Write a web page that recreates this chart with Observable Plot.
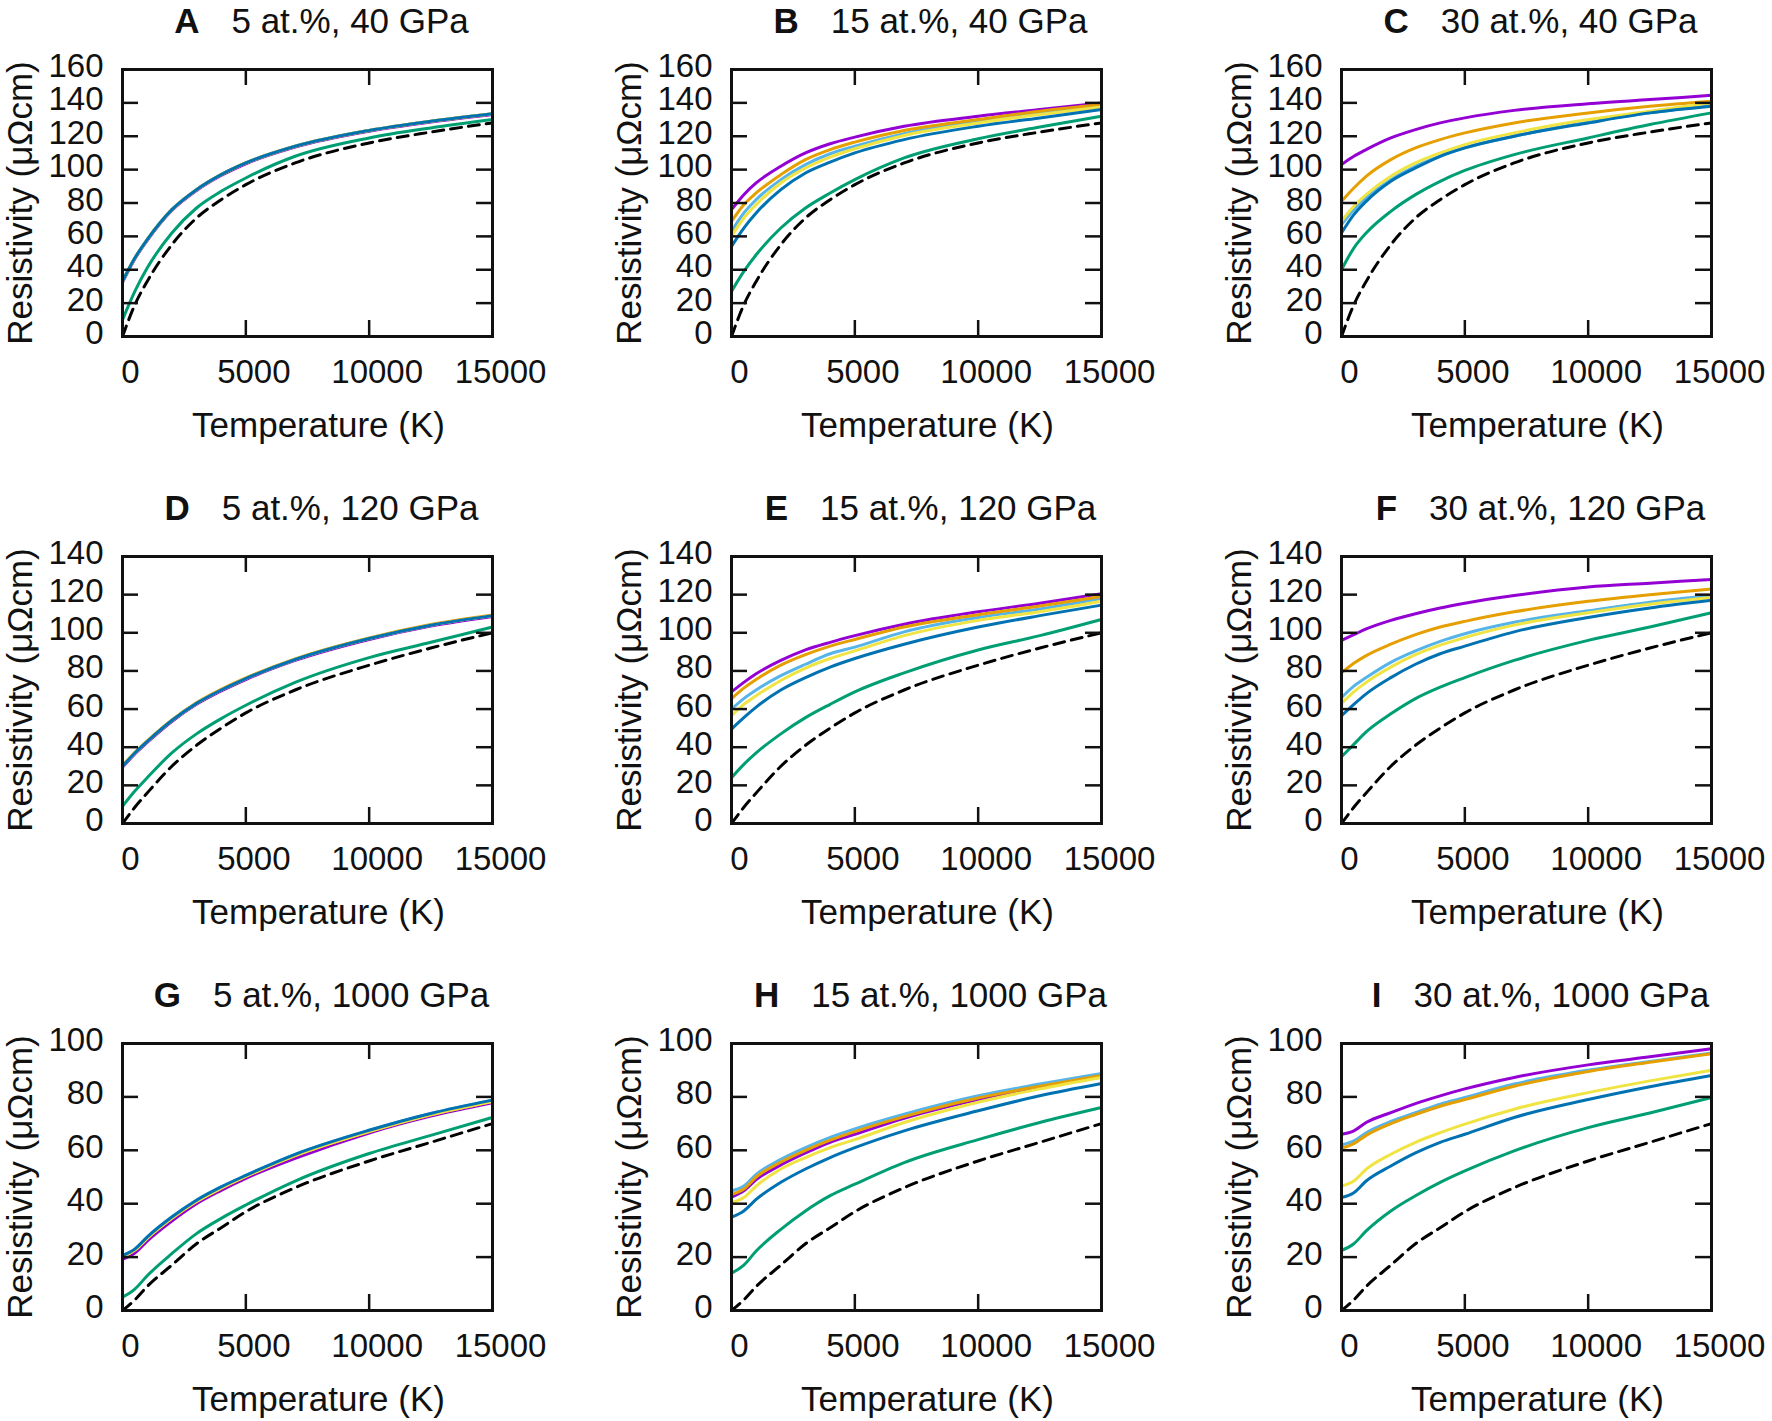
<!DOCTYPE html>
<html>
<head>
<meta charset="utf-8">
<script src="https://cdn.jsdelivr.net/npm/d3@7"></script>
<script src="https://cdn.jsdelivr.net/npm/@observablehq/plot@0.6"></script>
<style>
  html, body { margin: 0; padding: 0; background: #fff; overflow: hidden; }
  #fig { position: relative; width: 1772px; height: 1421px; overflow: hidden; }
  #fig svg { position: absolute; overflow: visible; }
</style>
</head>
<body>
<div id="fig"></div>
<script>
// temperatures (K) at which every curve is read
const temps = [0, 500, 1000, 2000, 3000, 4000, 5000, 7000, 10000, 12500, 15000];
const xTicks = [0, 5000, 10000, 15000];
const yTicks160 = [0, 20, 40, 60, 80, 100, 120, 140, 160];
const yTicks140 = [0, 20, 40, 60, 80, 100, 120, 140];
const yTicks100 = [0, 20, 40, 60, 80, 100];

// line colours, in drawing order: purple, green, sky blue, orange, yellow, blue
const colors = ["#9400D3", "#009E73", "#56B4E9", "#E69F00", "#F0E442", "#0072B2"];

// dashed reference curve, one per pressure (row)
const pure40 = [0, 19, 33, 55, 71, 82, 91, 104, 116, 122.5, 128];
const pure120 = [0, 8.5, 16, 30, 41, 50, 58, 70, 83, 92, 100];
const pure1000 = [0, 4, 9, 17, 25, 31, 37, 46, 56, 63, 70];

// resistivity (µΩcm), series order = colors
const panelA = [
  [32.5, 46.5, 57.5, 75.5, 87.5, 96.5, 103.5, 113.5, 123, 128.5, 133],
  [10, 27, 41, 62, 77, 87, 95, 108, 119, 125, 130],
  [33, 47, 58, 76, 88, 97, 104, 114, 123.5, 129, 133.5],
  [33, 47, 58, 76, 88, 97, 104, 114, 123.5, 129, 133.5],
  [33, 47, 58, 76, 88, 97, 104, 114, 123.5, 129, 133.5],
  [33, 47, 58, 76, 88, 97, 104, 114, 123.5, 129, 133.5]
];
const panelB = [
  [76, 85, 92, 102, 110, 115.5, 119.5, 126, 132, 136, 140],
  [27, 39, 49, 65, 77, 86, 94, 107, 118.5, 125.5, 132],
  [63, 74, 82, 94, 103, 109.5, 114, 121.5, 129, 134, 138],
  [69, 79, 86, 97, 106, 112, 116.5, 123.5, 130, 135, 139],
  [60, 71, 79, 92, 101, 107.5, 112.5, 120.5, 128, 133, 137.5],
  [54, 65, 74, 88, 98, 104.5, 110, 118, 126, 131, 136]
];
const panelC = [
  [103, 108, 112, 119, 124, 128, 131, 135.5, 139.5, 142, 144.5],
  [40, 53, 62, 75, 85, 93, 99.5, 109, 119, 127, 134],
  [67, 76, 83, 94, 102, 108, 113, 120, 128.5, 134, 138.5],
  [81, 89, 96, 106, 113, 118, 122, 128, 134, 138, 141],
  [69, 78, 85, 96, 104, 110, 115, 122, 130, 135, 140],
  [62, 73, 81, 93, 101, 108, 113, 120, 128, 134, 138]
];
const panelD = [
  [29.5, 36.5, 42.5, 53.5, 62.5, 69.5, 75.5, 85.5, 96.5, 103.5, 108.5],
  [9, 17, 24, 37, 47, 55, 62, 74, 87, 95, 103],
  [30, 37, 43, 54, 63, 70, 76, 86, 97, 104, 109],
  [30.3, 37.3, 43.3, 54.3, 63.3, 70.3, 76.3, 86.3, 97.3, 104.3, 109.3],
  [30, 37, 43, 54, 63, 70, 76, 86, 97, 104, 109],
  [30, 37, 43, 54, 63, 70, 76, 86, 97, 104, 109]
];
const panelE = [
  [69, 74, 78.5, 85.5, 91, 95, 98.5, 104.5, 111, 115.5, 120.5],
  [24, 31, 37, 47, 55.5, 62.5, 69, 79, 91, 98.5, 107],
  [60, 65.5, 70, 77.5, 83.5, 89, 92.5, 100.5, 108, 112.5, 118],
  [65.5, 71, 75.5, 83, 88.5, 93, 96.5, 103, 109.5, 114, 119],
  [56.5, 62.5, 67, 75, 81.5, 86.5, 90.5, 98.5, 106.5, 111, 116.5],
  [49.5, 55.5, 61, 70, 76.5, 82, 86.5, 94, 103, 109, 114.5]
];
const panelF = [
  [96, 99, 102, 106.5, 110, 113, 115.5, 119.5, 124, 126, 128],
  [35, 41.5, 48, 57.5, 65.5, 71.5, 76.5, 85.5, 96, 103, 110.5],
  [66, 72, 76.5, 84.5, 90.5, 95.5, 99.5, 105.5, 111.5, 116, 119.5],
  [79, 84, 88, 94, 99, 103, 106, 111, 116.5, 120, 123],
  [63, 69, 74, 82, 88.5, 93.5, 97.5, 104, 110.5, 115, 118.5],
  [56.5, 62.5, 68, 76.5, 83.5, 89, 93, 100.5, 108, 113, 117]
];
const panelG = [
  [19.2, 21.5, 26, 33.5, 40, 45, 49.5, 57, 66.5, 72.8, 77.8],
  [5, 8, 13, 21.3, 28.8, 34.5, 39.5, 48.5, 58.8, 65.6, 72.3],
  [20.6, 23, 27.5, 35, 41.3, 46.3, 50.6, 58.5, 67.5, 73.8, 78.8],
  [20.2, 22.6, 27, 34.5, 40.8, 45.8, 50.2, 58, 67, 73.3, 78.3],
  [20.2, 22.6, 27, 34.5, 40.8, 45.8, 50.2, 58, 67, 73.3, 78.3],
  [20.6, 23, 27.5, 35, 41.3, 46.3, 50.6, 58.5, 67.5, 73.8, 78.8]
];
const panelH = [
  [42.5, 44.8, 49, 54.5, 59, 63, 66, 72, 79, 83.5, 87.5],
  [14, 17, 22.3, 30.4, 37.3, 43, 47.3, 55.4, 64, 70.4, 76],
  [44.8, 46.6, 51, 56.6, 61, 64.8, 68, 73.5, 80.4, 84.8, 88.8],
  [43.5, 45.5, 50, 55.6, 60, 63.8, 67, 72.6, 79.6, 84, 88],
  [40.4, 42.3, 46.6, 53, 57.3, 61, 64, 70.4, 78, 83, 87.3],
  [35, 37.3, 41.6, 48, 53, 57.3, 61, 67.3, 74.8, 80.4, 85]
];
const panelI = [
  [66, 67.3, 70.4, 74.1, 77.5, 80.4, 83, 87.3, 92, 95, 98],
  [22.5, 25, 29.8, 37.3, 43, 48, 52.3, 59.8, 68.5, 74, 79.8],
  [62, 63.5, 66.6, 70.8, 74.1, 77.3, 79.8, 84.8, 90, 93.3, 96.4],
  [60.8, 62.5, 65.6, 70, 73.4, 76.5, 79, 84, 89.5, 93, 96.2],
  [46.6, 48.5, 52.9, 58.5, 63, 66.6, 69.8, 75.4, 81.6, 86, 90],
  [42.3, 44.1, 48.5, 54.1, 59, 63, 66, 72.3, 79, 83.8, 88]
];

const letters = ["A", "B", "C", "D", "E", "F", "G", "H", "I"];
const titles = [
  "5 at.%, 40 GPa", "15 at.%, 40 GPa", "30 at.%, 40 GPa",
  "5 at.%, 120 GPa", "15 at.%, 120 GPa", "30 at.%, 120 GPa",
  "5 at.%, 1000 GPa", "15 at.%, 1000 GPa", "30 at.%, 1000 GPa"
];
const panels = [panelA, panelB, panelC, panelD, panelE, panelF, panelG, panelH, panelI];
const pures = [pure40, pure120, pure1000];
const yMaxes = [160, 140, 100];
const yTickSets = [yTicks160, yTicks140, yTicks100];

const font = "Liberation Sans, Arial, Helvetica, sans-serif";
const ctx = document.createElement("canvas").getContext("2d");
function textWidth(s, f) { ctx.font = f; return ctx.measureText(s).width; }

const fig = document.getElementById("fig");

panels.forEach((series, k) => {
  const row = Math.floor(k / 3), col = k % 3;
  const lines = [];
  series.forEach((vals, i) => vals.forEach((r, j) => lines.push({T: temps[j], r, s: i})));
  const pure = pures[row].map((r, j) => ({T: temps[j], r}));

  // title: bold letter, gap, text, centred as a group
  const wL = textWidth(letters[k], `bold 35px ${font}`);
  const wT = textWidth(titles[k], `35px ${font}`);
  const start = 199 - (wL + 32 + wT) / 2;

  const chart = Plot.plot({
    width: 553,
    height: 447,
    marginLeft: 122,
    marginRight: 61,
    marginTop: 69,
    marginBottom: 111,
    style: {fontFamily: font, color: "#111", background: "transparent", overflow: "visible"},
    x: {domain: [0, 15000]},
    y: {domain: [0, yMaxes[row]]},
    marks: [
      ...colors.map((c, i) => Plot.line(lines.filter(d => d.s === i), {
        x: "T", y: "r", stroke: c, strokeWidth: 3, curve: "monotone-x"
      })),
      Plot.line(pure, {x: "T", y: "r", stroke: "#000", strokeWidth: 3, strokeDasharray: "11,7", curve: "monotone-x"}),
      // inward ticks on all four sides
      Plot.ruleY(yTickSets[row], {insetRight: 354, strokeWidth: 2.5, stroke: "#111"}),
      Plot.ruleY(yTickSets[row], {insetLeft: 354, strokeWidth: 2.5, stroke: "#111"}),
      Plot.ruleX(xTicks, {insetTop: 251, strokeWidth: 2.5, stroke: "#111"}),
      Plot.ruleX(xTicks, {insetBottom: 251, strokeWidth: 2.5, stroke: "#111"}),
      Plot.frame({stroke: "#111", strokeWidth: 3}),
      Plot.axisY({ticks: yTickSets[row], tickSize: 0, tickPadding: 19, tickFormat: "d", fontSize: 33, label: null, dy: -3}),
      Plot.axisX({ticks: xTicks, tickSize: 0, tickPadding: 23, tickFormat: "d", fontSize: 33, label: null, dx: 8}),
      Plot.text(["Temperature (K)"], {text: d => d, frameAnchor: "bottom", dy: 89, dx: 11, fontSize: 35, textAnchor: "middle", lineAnchor: "middle"}),
      Plot.text(["Resistivity (μΩcm)"], {text: d => d, frameAnchor: "left", dx: -102, rotate: -90, fontSize: 35, textAnchor: "middle", lineAnchor: "middle"}),
      Plot.text([letters[k]], {text: d => d, frameAnchor: "top-left", dx: start, dy: -48, textAnchor: "start", lineAnchor: "middle", fontWeight: "bold", fontSize: 35}),
      Plot.text([titles[k]], {text: d => d, frameAnchor: "top-left", dx: start + wL + 32, dy: -48, textAnchor: "start", lineAnchor: "middle", fontSize: 35})
    ]
  });
  chart.style.left = `${col === 0 ? 0 : col === 1 ? 609 : 1219}px`;
  chart.style.top = `${row * 487}px`;
  fig.appendChild(chart);
});
</script>
</body>
</html>
